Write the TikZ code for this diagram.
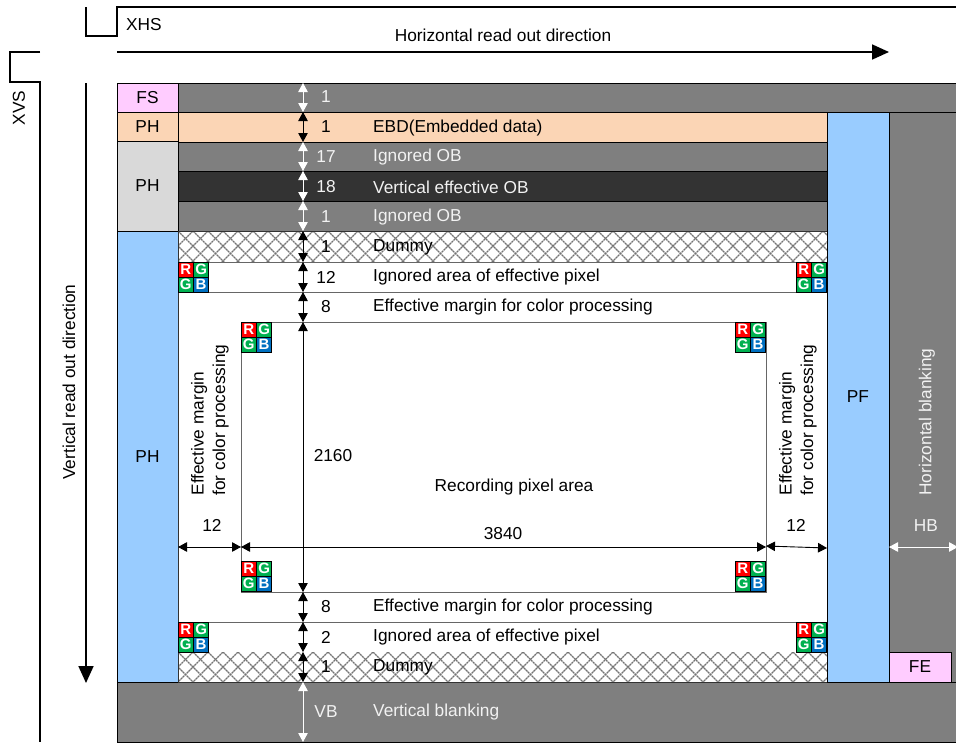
\documentclass[tikz,border=0pt]{standalone}
\usepackage{fontspec}
\setmainfont{Liberation Sans}
\usetikzlibrary{arrows.meta}
\definecolor{gfill}{HTML}{7F7F7F}
\definecolor{dfill}{HTML}{333333}
\definecolor{fsfill}{HTML}{FFCCFF}
\definecolor{phpeach}{HTML}{FBD5B5}
\definecolor{phgrey}{HTML}{D9D9D9}
\definecolor{phblue}{HTML}{99CCFF}
\definecolor{tilered}{HTML}{FF0000}
\definecolor{tilegreen}{HTML}{00B050}
\definecolor{tileblue}{HTML}{0070C0}
\definecolor{lighttext}{HTML}{F2F2F2}
\tikzset{
  area/.style={draw=black,line width=0.9pt,inner sep=0pt,outer sep=0pt,anchor=north west,font=\fontsize{17.3}{20}\selectfont},
  lbl/.style={inner sep=0pt,font=\fontsize{17.3}{20}\selectfont},
  lbll/.style={lbl,anchor=west},
  wlbl/.style={lbl,text=lighttext},
  wlbll/.style={lbll,text=lighttext},
  sig/.style={line width=1.2pt,black},
  bigarrow/.style={line width=1.8pt,-{Triangle[length=17pt,width=15pt]}},
  dimb/.style={line width=0.9pt,{Triangle[length=9pt,width=9.5pt]}-{Triangle[length=9pt,width=9.5pt]}},
  dimw/.style={line width=0.9pt,white,{Triangle[length=9pt,width=9.5pt]}-{Triangle[length=9pt,width=9.5pt]}},
  tile/.style={draw=black,line width=0.7pt,inner sep=0pt,outer sep=0pt,anchor=north west,minimum width=15.4pt,minimum height=15pt,text=white,font=\fontsize{15}{15}\selectfont\bfseries},
  twoline/.style={lbl,rotate=90,align=left,font=\fontsize{17.3}{21.5}\selectfont},
}
% name, x1, y1, x2, y2, style, text
\newcommand{\bx}[7]{%
  \pgfmathsetmacro{\bxw}{#4-#2}\pgfmathsetmacro{\bxh}{#5-#3}%
  \node[area,minimum width=\bxw pt,minimum height=\bxh pt,#6] (#1) at (#2,#3) {#7};}
\newcommand{\rgbtile}[3]{%
  \node[tile,fill=tilered] (#1r) at (#2,#3) {R};
  \node[tile,fill=tilegreen] (#1g) at (#2+15.4,#3) {G};
  \node[tile,fill=tilegreen] (#1h) at (#2,#3+15) {G};
  \node[tile,fill=tileblue] (#1b) at (#2+15.4,#3+15) {B};}
\newcommand{\hatch}[4]{%
  \begin{scope}
  \clip (#1,#2) rectangle (#3,#4);
  \foreach \k in {-4,...,50}{
    \draw[black!55,line width=1.1pt,dash pattern=on 2.2pt off 0.6pt] ({#1+\k*15},#2) -- ++(33,33);
    \draw[black!55,line width=1.1pt,dash pattern=on 2.2pt off 0.6pt] ({#1+\k*15},#2) -- ++(-33,33);
  }
  \end{scope}}
\begin{document}
\begin{tikzpicture}[x=1pt,y=-1pt]
\useasboundingbox (0,0) rectangle (956,742);
% signals
\coordinate (xa) at (86,7);
\coordinate (xb) at (86,36);
\coordinate (xc) at (117,36);
\coordinate (xd) at (117,7);
\coordinate (xe) at (956,7);
\draw[sig] (xa) -- (xb) -- (xc) -- (xd) -- (xe);
\coordinate (va) at (40,52);
\coordinate (vb) at (10,52);
\coordinate (vc) at (10,82);
\coordinate (vd) at (40,82);
\coordinate (ve) at (40,742);
\draw[sig] (va) -- (vb) -- (vc) -- (vd) -- (ve);
\node[lbll] (xhs) at (126,25) {XHS};
\node[lbl] (hro) at (503,35) {Horizontal read out direction};
\node[lbl,rotate=90] (xvs) at (19,108) {XVS};
\node[lbl,rotate=90] (vro) at (69,382) {Vertical read out direction};
\coordinate (ha) at (117,52);
\coordinate (hb) at (889,52);
\draw[bigarrow] (ha) -- (hb);
\coordinate (ua) at (86,83);
\coordinate (ub) at (86,683);
\draw[bigarrow] (ua) -- (ub);
% background
\bx{bgtop}{178}{83}{960}{112}{fill=gfill}{}
\bx{bgright}{889}{112}{960}{682}{fill=gfill}{}
\bx{bgbot}{117}{682}{960}{742}{fill=gfill}{}
% left column
\bx{fs}{117}{83}{178}{112}{fill=fsfill}{FS}
\bx{phb}{117}{112}{178}{141}{fill=phpeach}{PH}
\bx{phc}{117}{141}{178}{231}{fill=phgrey}{PH}
\bx{phd}{117}{231}{178}{682}{fill=phblue}{PH}
% rows
\bx{ebd}{178}{112}{827}{142}{fill=phpeach}{}
\bx{ob1}{178}{142}{827}{171}{fill=gfill}{}
\bx{vob}{178}{171}{827}{201}{fill=dfill}{}
\bx{ob2}{178}{201}{827}{231}{fill=gfill}{}
\bx{mid}{178}{231}{827}{682}{fill=white}{}
\bx{dum1}{178}{231}{827}{262}{fill=white,draw=none}{}
\hatch{178}{231}{827}{262}
\bx{ign1}{178}{262}{827}{292}{fill=white,draw=black!60}{}
\bx{mar1}{178}{292}{827}{322}{draw=none}{}
\bx{rec}{241}{322}{766}{592}{draw=black!60}{}
\bx{mar2}{178}{592}{827}{622}{draw=none}{}
\bx{ign2}{178}{622}{827}{652}{fill=white,draw=black!60}{}
\bx{dum2}{178}{652}{827}{682}{fill=white,draw=none}{}
\hatch{178}{652}{827}{682}
\draw[black!80,line width=0.9pt] (mid.north west) rectangle (mid.south east);
\bx{pf}{827}{112}{889}{682}{fill=phblue}{PF}
\bx{fe}{889}{652}{951}{682}{fill=fsfill}{FE}
% tiles
\rgbtile{ta}{178}{262}
\rgbtile{tb}{796}{262}
\rgbtile{tc}{241}{322}
\rgbtile{td}{735}{322}
\rgbtile{te}{241}{561}
\rgbtile{tf}{735}{561}
\rgbtile{tg}{178}{622}
\rgbtile{th}{796}{622}
% vertical dimension arrows
\coordinate (dx) at (303,83);
\draw[dimw] (dx |- bgtop.north) -- (dx |- bgtop.south);
\draw[dimb] (dx |- ebd.north) -- (dx |- ebd.south);
\draw[dimw] (dx |- ob1.north) -- (dx |- ob1.south);
\draw[dimw] (dx |- vob.north) -- (dx |- vob.south);
\draw[dimw] (dx |- ob2.north) -- (dx |- ob2.south);
\draw[dimb] (dx |- dum1.north) -- (dx |- dum1.south);
\draw[dimb] (dx |- ign1.north) -- (dx |- ign1.south);
\draw[dimb] (dx |- mar1.north) -- (dx |- mar1.south);
\draw[dimb] (dx |- rec.north) -- (dx |- rec.south);
\draw[dimb] (dx |- mar2.north) -- (dx |- mar2.south);
\draw[dimb] (dx |- ign2.north) -- (dx |- ign2.south);
\draw[dimb] (dx |- dum2.north) -- (dx |- dum2.south);
\draw[dimw] (dx |- bgbot.north) -- (dx |- bgbot.south);
% horizontal dimension arrows
\coordinate (dy) at (178,547);
\draw[dimb] (mid.west |- dy) -- (rec.west |- dy);
\draw[dimb] (rec.west |- dy) -- (rec.east |- dy);
\coordinate (dz) at (827,548);
\coordinate (dq) at (766,546);
\draw[dimb] (dq) -- (dz);
\coordinate (dw) at (889,547);
\coordinate (dv) at (958,547);
\draw[dimw] (dw) -- (dv);
% numbers
\node[wlbl] (n1) at (326,97) {1};
\node[lbl] (n2) at (326,127) {1};
\node[wlbl] (n3) at (326,157) {17};
\node[wlbl] (n4) at (326,187) {18};
\node[wlbl] (n5) at (326,217) {1};
\node[lbl] (n6) at (326,247) {1};
\node[lbl] (n7) at (326,277) {12};
\node[lbl] (n8) at (326,307) {8};
\node[lbl] (n9) at (333,456) {2160};
\node[lbl] (n10) at (326,607) {8};
\node[lbl] (n11) at (326,637) {2};
\node[lbl] (n12) at (326,667) {1};
\node[wlbl] (n13) at (326,712) {VB};
\node[lbl] (n14) at (212,525) {12};
\node[lbl] (n15) at (503,534) {3840};
\node[lbl] (n16) at (796,525) {12};
\node[wlbl] (n17) at (926,526) {HB};
% row labels
\node[lbll] (l1) at (373,128) {EBD(Embedded data)};
\node[wlbll] (l2) at (373,157) {Ignored OB};
\node[wlbll] (l3) at (373,187) {Vertical effective OB};
\node[wlbll] (l4) at (373,217) {Ignored OB};
\node[lbll] (l5) at (373,247) {Dummy};
\node[lbll] (l6) at (373,277) {Ignored area of effective pixel};
\node[lbll] (l7) at (373,307) {Effective margin for color processing};
\node[lbl] (l8) at (514,487) {Recording pixel area};
\node[lbll] (l9) at (373,607) {Effective margin for color processing};
\node[lbll] (l10) at (373,637) {Ignored area of effective pixel};
\node[lbll] (l11) at (373,667) {Dummy};
\node[wlbll] (l12) at (373,712) {Vertical blanking};
\node[twoline] (l13) at (210,420) {Effective margin\\for color processing};
\node[twoline] (l14) at (798,420) {Effective margin\\for color processing};
\node[wlbl,rotate=90] (l15) at (927,422) {Horizontal blanking};
\end{tikzpicture}
\end{document}
